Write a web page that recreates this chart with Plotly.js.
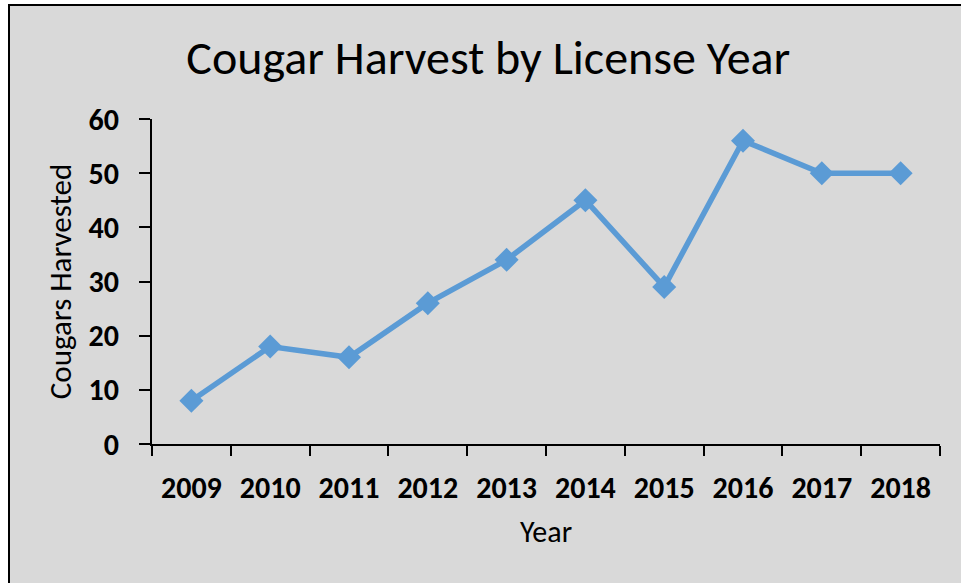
<!DOCTYPE html>
<html>
<head>
<meta charset="utf-8">
<script src="https://cdn.plot.ly/plotly-3.0.1.min.js"></script>
<style>
  html, body { margin: 0; padding: 0; background: #ffffff; width: 961px; height: 583px; overflow: hidden; }
  #chart { position: absolute; left: 8px; top: 4px; width: 951px; height: 577px;
           border-left: 2px solid #000; border-top: 2px solid #000; background: #d9d9d9; }
</style>
</head>
<body>
<div id="chart"></div>
<script>
const years = ['2009','2010','2011','2012','2013','2014','2015','2016','2017','2018'];
const harvested = [8, 18, 16, 26, 34, 45, 29, 56, 50, 50];
const yTicks = [0, 10, 20, 30, 40, 50, 60];

const trace = {
  x: years,
  y: harvested,
  type: 'scatter',
  mode: 'lines+markers',
  line: { color: '#5b9bd5', width: 5.5 },
  marker: { symbol: 'diamond', size: 18.5, color: '#5b9bd5' },
  hoverinfo: 'skip'
};

const font = 'Carlito, Calibri, "Open Sans", "Noto Sans", sans-serif';

const layout = {
  width: 951, height: 577,
  margin: { l: 142, r: 21, t: 113, b: 139 },
  paper_bgcolor: '#d9d9d9',
  plot_bgcolor: '#d9d9d9',
  showlegend: false,
  title: {
    text: 'Cougar Harvest by License Year',
    font: { family: font, size: 48, color: '#000' },
    x: 0.503, xanchor: 'center', y: 0.912, yanchor: 'middle'
  },
  xaxis: {
    type: 'category',
    range: [-0.5, 9.5],
    tickson: 'boundaries',
    ticks: 'outside', ticklen: 10, tickwidth: 2, tickcolor: '#000',
    showline: true, linecolor: '#000', linewidth: 2,
    showgrid: false, zeroline: false,
    tickfont: { family: font, size: 30, color: '#000', weight: 'bold' },
    ticklabelstandoff: 16,
    title: { text: 'Year', font: { family: font, size: 30, color: '#000' }, standoff: 16 },
    fixedrange: true
  },
  yaxis: {
    range: [0, 60],
    tickvals: yTicks,
    ticks: 'outside', ticklen: 11, tickwidth: 2, tickcolor: '#000',
    showline: true, linecolor: '#000', linewidth: 2,
    showgrid: false, zeroline: false,
    tickfont: { family: font, size: 30, color: '#000', weight: 'bold' },
    ticklabelstandoff: 14,
    title: { text: 'Cougars Harvested', font: { family: font, size: 31, color: '#000' }, standoff: 8 },
    fixedrange: true
  }
};

Plotly.newPlot('chart', [trace], layout, { displayModeBar: false, staticPlot: true });
</script>
</body>
</html>
